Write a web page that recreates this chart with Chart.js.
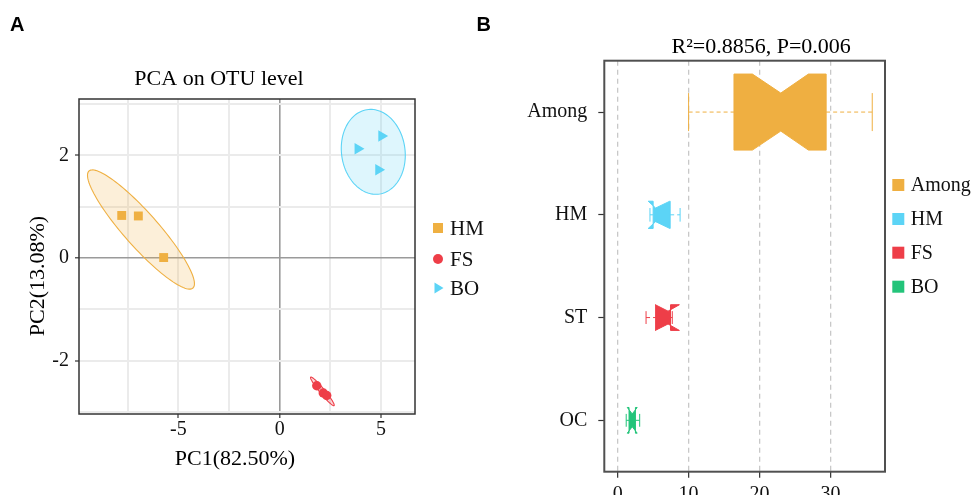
<!DOCTYPE html>
<html><head><meta charset="utf-8">
<script src="https://cdn.jsdelivr.net/npm/chart.js@4.4.0/dist/chart.umd.min.js"></script>
<style>
html,body{margin:0;padding:0;background:#fff;overflow:hidden;width:971px;height:495px;}
#ca{position:absolute;left:0;top:0;}
#cb{position:absolute;left:470px;top:0;}
</style></head><body>
<canvas id="ca" width="490" height="495"></canvas>
<canvas id="cb" width="501" height="520"></canvas>
<script>
// ---------- Panel A: PCA data ----------
const groupsA = ['HM', 'FS', 'BO'];
const hmX = [-7.80, -6.98, -5.73];
const hmY = [0.83, 0.82, 0.01];
const fsX = [1.83, 2.15, 2.32];
const fsY = [-2.49, -2.63, -2.68];
const boX = [3.86, 5.03, 4.88];
const boY = [2.13, 2.38, 1.72];
// confidence ellipses (data units): centre, first and second semi-axis vectors
const ellipseCX = [-6.85, 2.107, 4.62];
const ellipseCY = [0.556, -2.599, 2.07];
const ellipseAX = [2.565, 0.577, -0.069];
const ellipseAY = [-1.141, -0.277, 0.827];
const ellipseBX = [0.627, 0.095, 1.579];
const ellipseBY = [0.220, 0.031, -0.031];
const xGridA = [-7.5, -5, -2.5, 0, 2.5, 5];
const xLabelA = [-5, 0, 5];
const yGridA = [-3, -2, -1, 0, 1, 2, 3];
const yLabelA = [-2, 0, 2];

// ---------- Panel B: boxplot data ----------
const boxCategories = ['Among', 'HM', 'ST', 'OC'];
const legendB = ['Among', 'HM', 'FS', 'BO'];
const boxMin    = [10.0, 4.55, 4.0, 1.2];
const boxQ1     = [16.4, 5.0, 5.35, 1.6];
const boxMedian = [23.0, 5.35, 7.1, 2.05];
const boxQ3     = [29.4, 7.4, 7.45, 2.5];
const boxMax    = [35.9, 8.8, 7.7, 3.1];
const notchLo   = [19.0, 4.3, 5.3, 1.35];
const notchHi   = [26.9, 7.35, 8.7, 2.75];
const xTicksB = [0, 10, 20, 30];

// ---------- styles ----------
const serif = "'Liberation Serif','Times New Roman',serif";
const sans = "'Liberation Sans',Arial,sans-serif";
const colA = ['#EFB042', '#EE3E48', '#5CD4F6'];
const fillA = ['rgba(239,176,66,0.2)', 'rgba(238,62,72,0.2)', 'rgba(92,212,246,0.2)'];
const colB = ['#EFAF41', '#5CD4F6', '#EE3E48', '#23C47A'];
const boxHeights = [0.74, 0.265, 0.25, 0.25];
Chart.defaults.font.family = serif;

function pts(xs, ys) { return xs.map((x, i) => ({x: x, y: ys[i]})); }

const decorA = {
  id: 'decorA',
  beforeDatasetsDraw(chart) {
    const {ctx, scales: {x, y}} = chart;
    for (let k = 0; k < ellipseCX.length; k++) {
      ctx.save();
      ctx.beginPath();
      for (let s = 0; s <= 120; s++) {
        const t = s / 120 * Math.PI * 2;
        const dx = ellipseCX[k] + ellipseAX[k] * Math.cos(t) + ellipseBX[k] * Math.sin(t);
        const dy = ellipseCY[k] + ellipseAY[k] * Math.cos(t) + ellipseBY[k] * Math.sin(t);
        const px = x.getPixelForValue(dx), py = y.getPixelForValue(dy);
        if (s === 0) ctx.moveTo(px, py); else ctx.lineTo(px, py);
      }
      ctx.closePath();
      ctx.fillStyle = fillA[k];
      ctx.fill();
      ctx.lineWidth = 1.1;
      ctx.strokeStyle = colA[k];
      ctx.stroke();
      ctx.restore();
    }
  },
  afterDraw(chart) {
    const {ctx, chartArea: a} = chart;
    ctx.save();
    ctx.strokeStyle = '#333';
    ctx.lineWidth = 1.5;
    ctx.strokeRect(a.left, a.top, a.right - a.left, a.bottom - a.top);
    ctx.fillStyle = '#000';
    ctx.font = 'bold 20px ' + sans;
    ctx.textAlign = 'left'; ctx.textBaseline = 'alphabetic';
    ctx.fillText('A', 10, 31);
    ctx.font = '22px ' + serif;
    ctx.textAlign = 'center';
    ctx.fillText('PCA on OTU level', 219, 84.5);
    ctx.fillText('PC1(82.50%)', 235, 465);
    ctx.save();
    ctx.translate(43.5, 276);
    ctx.rotate(-Math.PI / 2);
    ctx.fillText('PC2(13.08%)', 0, 0);
    ctx.restore();
    // legend
    const ly = [228, 259, 288];
    ctx.textAlign = 'left'; ctx.textBaseline = 'middle';
    ctx.font = '21px ' + serif;
    for (let k = 0; k < groupsA.length; k++) {
      ctx.fillStyle = colA[k];
      const cx = 438, cy = ly[k];
      if (k === 0) ctx.fillRect(cx - 5, cy - 5, 10, 10);
      else if (k === 1) { ctx.beginPath(); ctx.arc(cx, cy, 5, 0, Math.PI * 2); ctx.fill(); }
      else { ctx.beginPath(); ctx.moveTo(cx + 5.5, cy); ctx.lineTo(cx - 3.5, cy - 5.5); ctx.lineTo(cx - 3.5, cy + 5.5); ctx.closePath(); ctx.fill(); }
      ctx.fillStyle = '#111';
      ctx.fillText(groupsA[k], 450, cy + 1);
    }
    ctx.restore();
  }
};

new Chart(document.getElementById('ca'), {
  type: 'scatter',
  data: {
    datasets: [
      {label: 'HM', data: pts(hmX, hmY), pointStyle: 'rect', pointRadius: 6.3, backgroundColor: colA[0], borderWidth: 0},
      {label: 'FS', data: pts(fsX, fsY), pointStyle: 'circle', pointRadius: 4.7, backgroundColor: colA[1], borderWidth: 0},
      {label: 'BO', data: pts(boX, boY), pointStyle: 'triangle', rotation: 90, pointRadius: 6.6, backgroundColor: colA[2], borderWidth: 0}
    ]
  },
  options: {
    responsive: false, animation: false, devicePixelRatio: 1,
    layout: {padding: {left: 0, right: 75, top: 99, bottom: 0}},
    plugins: {legend: {display: false}, tooltip: {enabled: false}, title: {display: false}},
    scales: {
      x: {
        type: 'linear', min: -9.91, max: 6.68,
        afterBuildTicks: s => { s.ticks = xGridA.map(v => ({value: v})); },
        afterFit: s => { s.height = 81; },
        border: {display: false},
        grid: {
          color: c => c.tick && c.tick.value === 0 ? '#9a9a9a' : '#ebebeb',
          lineWidth: c => c.tick && c.tick.value === 0 ? 1.6 : 2,
          drawTicks: true, tickLength: 4,
          tickColor: c => c.tick && xLabelA.includes(c.tick.value) ? '#333' : 'rgba(0,0,0,0)',
          tickWidth: 1.2
        },
        ticks: {autoSkip: false, maxRotation: 0, padding: 0, color: '#111', font: {size: 20, family: serif},
          callback: v => xLabelA.includes(v) ? String(v) : ''}
      },
      y: {
        type: 'linear', min: -3.04, max: 3.10,
        afterBuildTicks: s => { s.ticks = yGridA.map(v => ({value: v})); },
        afterFit: s => { s.width = 79; },
        border: {display: false},
        grid: {
          color: c => c.tick && c.tick.value === 0 ? '#9a9a9a' : '#ebebeb',
          lineWidth: c => c.tick && c.tick.value === 0 ? 1.6 : 2,
          drawTicks: true, tickLength: 4,
          tickColor: c => c.tick && yLabelA.includes(c.tick.value) ? '#333' : 'rgba(0,0,0,0)',
          tickWidth: 1.2
        },
        ticks: {autoSkip: false, padding: 6, color: '#111', font: {size: 20, family: serif},
          callback: v => yLabelA.includes(v) ? String(v) : ''}
      }
    }
  },
  plugins: [decorA]
});

const decorB = {
  id: 'decorB',
  afterDatasetsDraw(chart) {
    const {ctx, scales: {x, y}} = chart;
    const band = y.getPixelForTick(1) - y.getPixelForTick(0);
    for (let i = 0; i < boxCategories.length; i++) {
      const yc = y.getPixelForTick(i);
      const hw = boxHeights[i] * band / 2;
      const wh = hw * 0.5;
      const P = v => x.getPixelForValue(v);
      ctx.save();
      ctx.strokeStyle = colB[i];
      ctx.fillStyle = colB[i];
      ctx.lineWidth = 1;
      // whiskers (dashed)
      ctx.setLineDash([4, 3]);
      ctx.beginPath();
      ctx.moveTo(P(boxMin[i]), yc); ctx.lineTo(P(boxQ1[i]), yc);
      ctx.moveTo(P(boxQ3[i]), yc); ctx.lineTo(P(boxMax[i]), yc);
      ctx.stroke();
      ctx.setLineDash([]);
      // staples
      ctx.beginPath();
      ctx.moveTo(P(boxMin[i]), yc - wh); ctx.lineTo(P(boxMin[i]), yc + wh);
      ctx.moveTo(P(boxMax[i]), yc - wh); ctx.lineTo(P(boxMax[i]), yc + wh);
      ctx.stroke();
      // notched box
      ctx.beginPath();
      ctx.moveTo(P(boxQ1[i]), yc - hw);
      ctx.lineTo(P(notchLo[i]), yc - hw);
      ctx.lineTo(P(boxMedian[i]), yc - wh);
      ctx.lineTo(P(notchHi[i]), yc - hw);
      ctx.lineTo(P(boxQ3[i]), yc - hw);
      ctx.lineTo(P(boxQ3[i]), yc + hw);
      ctx.lineTo(P(notchHi[i]), yc + hw);
      ctx.lineTo(P(boxMedian[i]), yc + wh);
      ctx.lineTo(P(notchLo[i]), yc + hw);
      ctx.lineTo(P(boxQ1[i]), yc + hw);
      ctx.closePath();
      ctx.fill();
      ctx.stroke();
      ctx.restore();
    }
  },
  afterDraw(chart) {
    const {ctx, chartArea: a} = chart;
    ctx.save();
    ctx.strokeStyle = '#505050';
    ctx.lineWidth = 2;
    ctx.strokeRect(a.left, a.top, a.right - a.left, a.bottom - a.top);
    ctx.fillStyle = '#000';
    ctx.font = 'bold 20px ' + sans;
    ctx.textAlign = 'left'; ctx.textBaseline = 'alphabetic';
    ctx.fillText('B', 6.5, 31);
    ctx.font = '22px ' + serif;
    ctx.textAlign = 'center';
    ctx.fillText('R\u00B2=0.8856, P=0.006', 291.2, 52.7);
    // legend
    const ly = [185, 219, 252.7, 286.7];
    ctx.textAlign = 'left'; ctx.textBaseline = 'middle';
    ctx.font = '20px ' + serif;
    for (let k = 0; k < legendB.length; k++) {
      ctx.fillStyle = colB[k];
      ctx.fillRect(422.3, ly[k] - 6, 12, 12);
      ctx.fillStyle = '#111';
      ctx.fillText(legendB[k], 440.7, ly[k] + 1);
    }
    ctx.restore();
  }
};

new Chart(document.getElementById('cb'), {
  type: 'bar',
  data: {labels: boxCategories, datasets: []},
  options: {
    indexAxis: 'y',
    responsive: false, animation: false, devicePixelRatio: 1,
    layout: {padding: {left: 0, right: 86, top: 60.7, bottom: 0}},
    plugins: {legend: {display: false}, tooltip: {enabled: false}, title: {display: false}},
    scales: {
      x: {
        type: 'linear', position: 'bottom', min: -1.89, max: 37.7,
        afterBuildTicks: s => { s.ticks = xTicksB.map(v => ({value: v})); },
        afterFit: s => { s.height = 520 - 471.7; },
        border: {display: false, dash: [5, 4]},
        grid: {color: '#c8c8c8', lineWidth: 1.3, drawTicks: true, tickLength: 6, tickColor: '#333', tickWidth: 1.2},
        ticks: {autoSkip: false, maxRotation: 0, padding: 5, color: '#111', font: {size: 20, family: serif}}
      },
      y: {
        type: 'category', labels: boxCategories, offset: true,
        afterFit: s => { s.width = 134.3; },
        border: {display: false},
        grid: {display: true, drawOnChartArea: false, drawTicks: true, tickLength: 6, offset: false, tickColor: '#333', tickWidth: 1.2},
        ticks: {padding: 11, color: '#111', font: {size: 20, family: serif}}
      }
    }
  },
  plugins: [decorB]
});
</script>
</body></html>
